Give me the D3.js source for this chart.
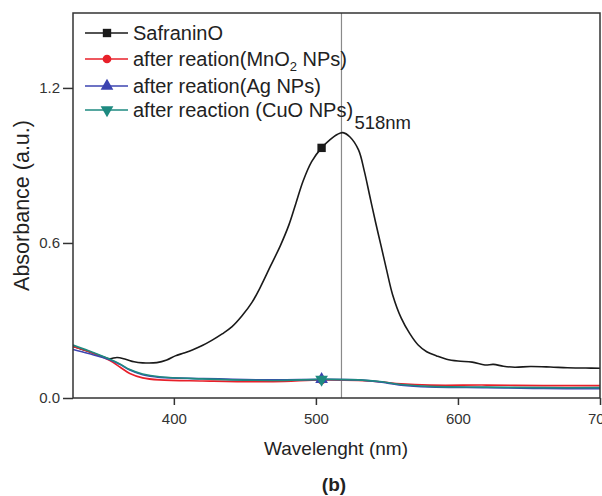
<!DOCTYPE html>
<html>
<head>
<meta charset="utf-8">
<script src="https://cdn.jsdelivr.net/npm/d3@7"></script>
<style>
  body { margin: 0; background: #fff; }
  svg { display: block; font-family: "Liberation Sans", Arial, sans-serif; }
</style>
</head>
<body>
<div id="chart"></div>
<script>
// wavelength (nm) / absorbance pairs
var safraninWl = [329, 340, 350, 355, 360, 366, 372, 378, 388, 395, 401, 407, 413, 420, 427, 434, 441, 448, 455, 461, 468, 475, 481, 486, 491, 497, 504, 510, 515, 519, 524, 530, 534, 538, 542, 546, 550, 554, 560, 566, 572, 578, 585, 592, 600, 610, 619, 625, 632, 640, 651, 665, 677, 690, 700];
var safraninAbs = [0.200, 0.180, 0.160, 0.152, 0.157, 0.150, 0.140, 0.136, 0.137, 0.147, 0.163, 0.174, 0.186, 0.203, 0.224, 0.248, 0.276, 0.318, 0.37, 0.43, 0.51, 0.59, 0.67, 0.755, 0.84, 0.915, 0.968, 1.0, 1.02, 1.027, 1.01, 0.96, 0.88, 0.78, 0.68, 0.586, 0.49, 0.40, 0.31, 0.25, 0.205, 0.179, 0.163, 0.15, 0.143, 0.139, 0.128, 0.13, 0.123, 0.119, 0.122, 0.12, 0.117, 0.116, 0.115];

var afterWl = [329, 340, 355, 362, 369, 378, 390, 420, 470, 504, 530, 545, 560, 580, 620, 660, 700];
var mno2Abs = [0.200, 0.180, 0.145, 0.120, 0.095, 0.078, 0.070, 0.066, 0.063, 0.070, 0.068, 0.063, 0.055, 0.050, 0.050, 0.048, 0.048];
var agAbs   = [0.188, 0.172, 0.148, 0.130, 0.108, 0.090, 0.080, 0.075, 0.070, 0.072, 0.070, 0.062, 0.050, 0.043, 0.040, 0.037, 0.036];
var cuoAbs  = [0.205, 0.183, 0.150, 0.132, 0.110, 0.093, 0.082, 0.074, 0.068, 0.072, 0.070, 0.064, 0.052, 0.045, 0.042, 0.040, 0.040];

var xTicks = [400, 500, 600, 700];
var yTicks = [0.0, 0.6, 1.2];
var markerWl = 504;
var peakWl = 518;

var seriesNames = ["SafraninO", "after reation(MnO2 NPs)", "after reation(Ag NPs)", "after reaction (CuO NPs)"];

var svgWidth = 602, svgHeight = 496;
var margin = { top: 13, right: 2, bottom: 98, left: 73 };
var width = svgWidth - margin.left - margin.right;
var height = svgHeight - margin.top - margin.bottom;

var svg = d3.select("#chart").append("svg")
  .attr("width", svgWidth)
  .attr("height", svgHeight);

var g = svg.append("g")
  .attr("transform", `translate(${margin.left}, ${margin.top})`);

var xScale = d3.scaleLinear().domain([329, 700]).range([0, width]);
var yScale = d3.scaleLinear().domain([0, 1.49]).range([height, 0]);

var series = [
  { name: seriesNames[0], wl: safraninWl, abs: safraninAbs, color: "#1a1a1a", sym: d3.symbolSquare, rot: 0 },
  { name: seriesNames[1], wl: afterWl, abs: mno2Abs, color: "#e8202a", sym: d3.symbolCircle, rot: 0 },
  { name: seriesNames[2], wl: afterWl, abs: agAbs, color: "#3c44b0", sym: d3.symbolTriangle, rot: 0 },
  { name: seriesNames[3], wl: afterWl, abs: cuoAbs, color: "#1e8a80", sym: d3.symbolTriangle, rot: 180 }
];

// vertical guide at the peak
g.append("line")
  .attr("x1", xScale(peakWl)).attr("x2", xScale(peakWl))
  .attr("y1", 0).attr("y2", height)
  .attr("stroke", "#8a8a8a").attr("stroke-width", 1.2);

var line = d3.line()
  .x(d => xScale(d[0]))
  .y(d => yScale(d[1]))
  .curve(d3.curveCatmullRom.alpha(0.5));

svg.append("clipPath").attr("id", "clip")
  .append("rect").attr("width", width).attr("height", height);

var plot = g.append("g").attr("clip-path", "url(#clip)");

series.forEach(function(s) {
  var pts = s.wl.map((w, i) => [w, s.abs[i]]);
  plot.append("path")
    .datum(pts)
    .attr("fill", "none")
    .attr("stroke", s.color)
    .attr("stroke-width", 1.6)
    .attr("d", line);
});

// one marker per curve
series.forEach(function(s) {
  var i = s.wl.indexOf(markerWl);
  g.append("path")
    .attr("d", d3.symbol().type(s.sym).size(s.sym === d3.symbolCircle ? 60 : 70)())
    .attr("transform", `translate(${xScale(s.wl[i])}, ${yScale(s.abs[i])}) rotate(${s.rot})`)
    .attr("fill", s.color);
});

// axes
var xAxis = d3.axisBottom(xScale).tickValues(xTicks).tickSize(7).tickPadding(8);
var yAxis = d3.axisLeft(yScale).tickValues(yTicks).tickSize(10).tickPadding(3).tickFormat(d3.format(".1f"));

var xg = g.append("g").attr("transform", `translate(0, ${height})`).call(xAxis);
var yg = g.append("g").call(yAxis);

[xg, yg].forEach(function(a) {
  a.select(".domain").remove();
  a.selectAll("line").attr("stroke", "#333").attr("stroke-width", 1.5);
  a.selectAll("text").attr("font-size", 15).attr("fill", "#333")
    .attr("font-family", "Liberation Sans, Arial, sans-serif");
});

// frame
g.append("rect")
  .attr("width", width).attr("height", height)
  .attr("fill", "none").attr("stroke", "#333").attr("stroke-width", 1.5);

// peak label
g.append("text")
  .attr("x", xScale(peakWl) + 13).attr("y", yScale(1.027) - 4)
  .attr("font-size", 18.5).attr("fill", "#222")
  .text(peakWl + "nm");

// legend
var legendY = [33, 59, 86, 110];
var legend = svg.append("g");
series.forEach(function(s, i) {
  var row = legend.append("g").attr("transform", `translate(0, ${legendY[i]})`);
  row.append("line").attr("x1", 85).attr("x2", 128).attr("y1", 0).attr("y2", 0)
    .attr("stroke", s.color).attr("stroke-width", 1.6);
  row.append("path")
    .attr("d", d3.symbol().type(s.sym).size(s.sym === d3.symbolCircle ? 60 : 70)())
    .attr("transform", `translate(107, 0) rotate(${s.rot})`)
    .attr("fill", s.color);
  var t = row.append("text").attr("x", 133).attr("y", 7)
    .attr("font-size", 20).attr("fill", "#222");
  if (i === 1) {
    t.append("tspan").text("after reation(MnO");
    t.append("tspan").attr("font-size", 13).attr("dy", 5).text("2");
    t.append("tspan").attr("dy", -5).text(" NPs)");
  } else {
    t.text(s.name);
  }
});

// axis titles
svg.append("text")
  .attr("transform", `translate(29, ${margin.top + height / 2}) rotate(-90)`)
  .attr("text-anchor", "middle")
  .attr("font-size", 21.5).attr("fill", "#222")
  .text("Absorbance (a.u.)");

svg.append("text")
  .attr("x", 336).attr("y", 455)
  .attr("text-anchor", "middle")
  .attr("font-size", 19).attr("fill", "#222")
  .text("Wavelenght (nm)");

svg.append("text")
  .attr("x", 334).attr("y", 491)
  .attr("text-anchor", "middle")
  .attr("font-size", 19).attr("font-weight", "bold").attr("fill", "#222")
  .text("(b)");
</script>
</body>
</html>
